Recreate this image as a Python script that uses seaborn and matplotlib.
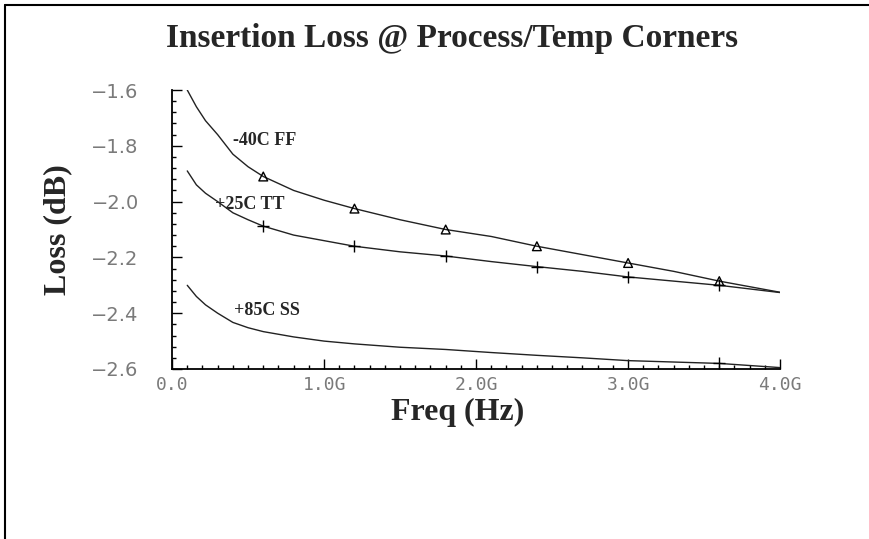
import matplotlib
matplotlib.use("Agg")
import matplotlib.pyplot as plt
from matplotlib.lines import Line2D
from matplotlib.ticker import MultipleLocator
import numpy as np
import pandas as pd
import seaborn as sns

# ── Data ──────────────────────────────────────────────────────────────────────
freq_ghz = [0.1, 0.16, 0.22, 0.3, 0.4, 0.5, 0.6, 0.8, 1.0, 1.2,
            1.5, 1.8, 2.1, 2.4, 2.7, 3.0, 3.3, 3.6, 4.0]

loss_ff = [-1.60, -1.66, -1.71, -1.76, -1.83, -1.875, -1.91, -1.96, -1.995, -2.025,
           -2.065, -2.10, -2.125, -2.16, -2.19, -2.22, -2.25, -2.285, -2.325]
loss_tt = [-1.89, -1.94, -1.97, -2.00, -2.04, -2.065, -2.088, -2.12, -2.14, -2.16,
           -2.18, -2.195, -2.215, -2.233, -2.25, -2.27, -2.285, -2.30, -2.326]
loss_ss = [-2.30, -2.34, -2.37, -2.40, -2.433, -2.452, -2.466, -2.485, -2.50, -2.51,
           -2.522, -2.53, -2.541, -2.551, -2.56, -2.57, -2.575, -2.58, -2.595]

corner_names = ["-40C FF", "+25C TT", "+85C SS"]
ff_marks = [0.6, 1.2, 1.8, 2.4, 3.0, 3.6]
tt_marks = [0.6, 1.2, 1.8, 2.4, 3.0, 3.6]
ss_marks = [3.6]

x_ticks = [0.0, 1.0, 2.0, 3.0, 4.0]
x_ticklabels = ["0.0", "1.0G", "2.0G", "3.0G", "4.0G"]
y_ticks = [-2.6, -2.4, -2.2, -2.0, -1.8, -1.6]
y_ticklabels = ["\u22122.6", "\u22122.4", "\u22122.2", "\u22122.0", "\u22121.8", "\u22121.6"]

# ── Figure ────────────────────────────────────────────────────────────────────
sns.set_style("white")
plt.rcParams["font.family"] = ["DejaVu Sans"]
serif = ["Liberation Serif", "DejaVu Serif"]

fig = plt.figure(figsize=(8.69, 5.39), dpi=100)
ax = fig.add_axes([0.198, 0.3154, 0.6997, 0.5176])

df = pd.DataFrame({
    "freq": freq_ghz * 3,
    "loss": loss_ff + loss_tt + loss_ss,
    "corner": sum([[n] * len(freq_ghz) for n in corner_names], []),
})
sns.lineplot(data=df, x="freq", y="loss", hue="corner", palette=["#222222"] * 3,
             linewidth=1.0, legend=False, ax=ax, estimator=None, sort=False)

# markers on top of the curves
for loss, marks, mk in [(loss_ff, ff_marks, "^"), (loss_tt, tt_marks, "+"), (loss_ss, ss_marks, "+")]:
    idx = [freq_ghz.index(m) for m in marks]
    sns.scatterplot(x=[freq_ghz[i] for i in idx], y=[loss[i] for i in idx], ax=ax,
                    marker=mk, s=40 if mk == "^" else 70,
                    facecolor="none" if mk == "^" else "black",
                    edgecolor="black", linewidth=1.0, legend=False, zorder=3)

# curve labels
ax.text(0.40, -1.78, corner_names[0], family=serif, weight="bold", fontsize=13, va="center")
ax.text(0.28, -2.011, corner_names[1], family=serif, weight="bold", fontsize=13, va="center")
ax.text(0.41, -2.392, corner_names[2], family=serif, weight="bold", fontsize=13, va="center")

ax.set_xlim(0, 4.0)
ax.set_ylim(-2.6, -1.6)
ax.set_xticks(x_ticks, x_ticklabels, family="DejaVu Sans Mono", fontsize=13, color="#7a7a7a")
ax.set_yticks(y_ticks, y_ticklabels, fontsize=14, color="#7a7a7a")
ax.xaxis.set_minor_locator(MultipleLocator(0.1))
ax.yaxis.set_minor_locator(MultipleLocator(0.04))
ax.tick_params(axis="both", which="both", bottom=True, left=True, direction="in", color="black")
ax.tick_params(axis="both", which="major", length=7, width=1.0)
ax.tick_params(axis="both", which="minor", length=3, width=1.0)
ax.tick_params(axis="y", which="major", pad=24)
ax.tick_params(axis="x", which="major", pad=5)

for side in ["top", "right"]:
    ax.spines[side].set_visible(False)
for side in ["left", "bottom"]:
    ax.spines[side].set_color("black")
    ax.spines[side].set_linewidth(1.3)

ax.set_xlabel("Freq (Hz)", family=serif, weight="bold", fontsize=23)
ax.xaxis.set_label_coords(0.469, -0.102)
ax.set_ylabel("Loss (dB)", family=serif, weight="bold", fontsize=23, labelpad=14)
fig.text(0.52, 0.928, "Insertion Loss @ Process/Temp Corners", family=serif,
         weight="bold", fontsize=24, ha="center", va="center")

# outer frame (top and left edges only)
fig.add_artist(Line2D([5 / 869, 1.0], [1 - 5 / 539, 1 - 5 / 539], color="black", linewidth=1.5))
fig.add_artist(Line2D([5 / 869, 5 / 869], [0.0, 1 - 5 / 539], color="black", linewidth=1.5))

fig.savefig("out.png", dpi=100, facecolor="white")
plt.close(fig)
